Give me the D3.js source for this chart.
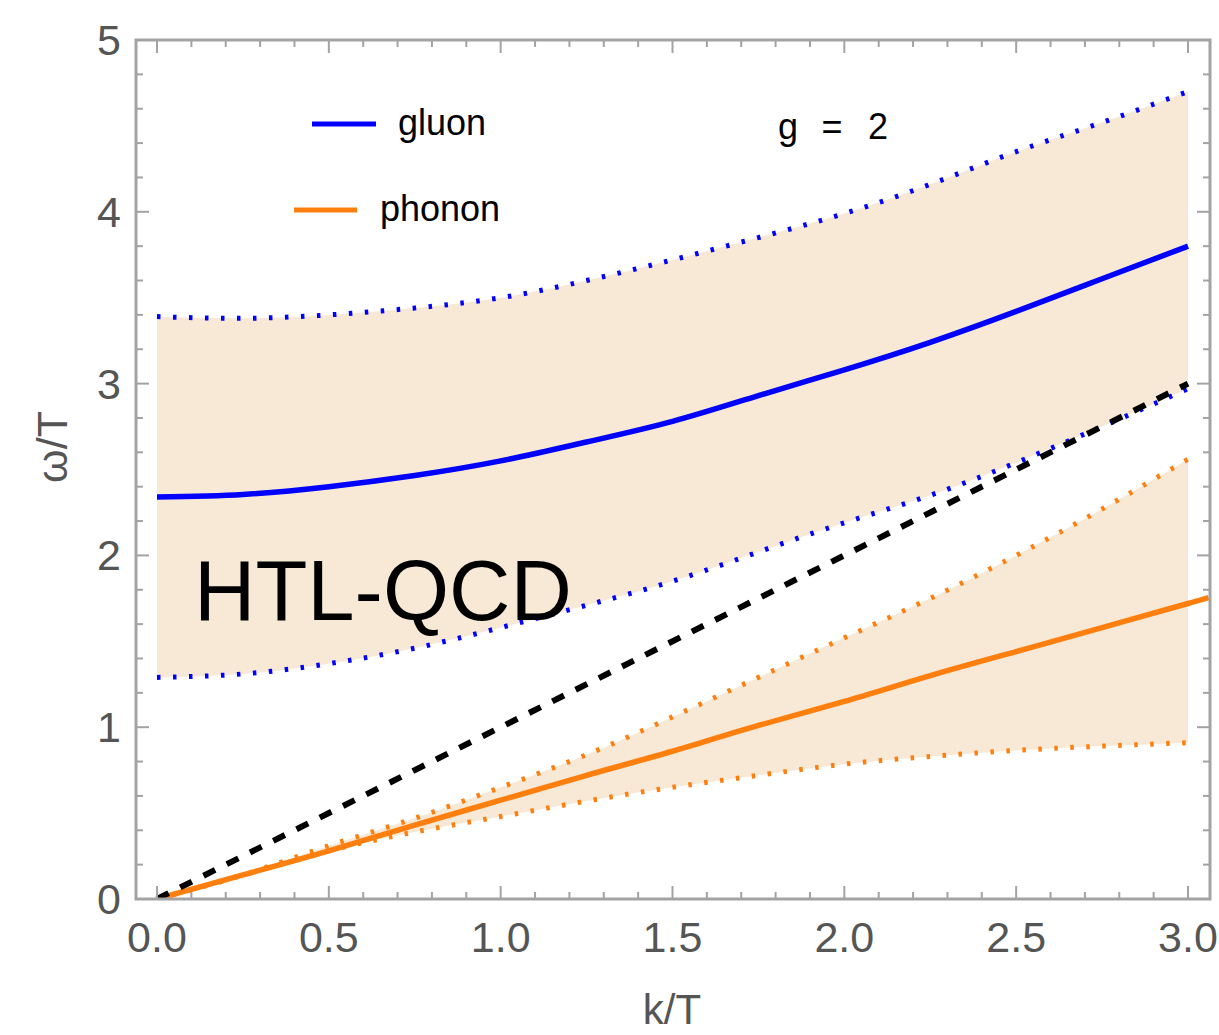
<!DOCTYPE html>
<html>
<head>
<meta charset="utf-8">
<script src="https://cdn.jsdelivr.net/npm/d3@7"></script>
<style>
  html, body { margin: 0; padding: 0; background: #fff; }
  svg { display: block; font-family: "Liberation Sans", Arial, sans-serif; }
</style>
</head>
<body>
<svg id="chart" width="1219" height="1035"></svg>
<script>
// dispersion curves, k/T on the grid below
const kGrid = [0, 0.25, 0.5, 0.75, 1.0, 1.25, 1.5, 1.75, 2.0, 2.25, 2.5, 2.75, 3.0];

// gluon branch with its band edges
const gluonMid   = [2.34, 2.355, 2.40, 2.465, 2.55, 2.66, 2.78, 2.93, 3.08, 3.24, 3.42, 3.61, 3.80];
const gluonUpper = [3.39, 3.38, 3.40, 3.44, 3.50, 3.60, 3.72, 3.85, 3.99, 4.16, 4.35, 4.52, 4.70];
const gluonLower = [1.29, 1.31, 1.37, 1.46, 1.58, 1.71, 1.85, 2.02, 2.19, 2.35, 2.54, 2.75, 2.97];

// phonon branch (central curve runs a little past k = 3)
const kPhonon     = [0, 0.25, 0.5, 0.75, 1.0, 1.25, 1.5, 1.75, 2.0, 2.25, 2.5, 2.75, 3.0, 3.06];
const phononMid   = [0, 0.14, 0.28, 0.43, 0.575, 0.72, 0.86, 1.01, 1.15, 1.30, 1.44, 1.58, 1.72, 1.755];
const phononUpper = [0, 0.14, 0.31, 0.47, 0.65, 0.84, 1.06, 1.29, 1.52, 1.75, 2.00, 2.27, 2.56];
const phononLower = [0, 0.14, 0.28, 0.39, 0.48, 0.57, 0.65, 0.72, 0.785, 0.83, 0.865, 0.89, 0.91];

// light cone omega = k
const lightK = [0, 3];
const lightW = [0, 3];

const xTicks = [0, 0.5, 1.0, 1.5, 2.0, 2.5, 3.0];
const yTicks = [0, 1, 2, 3, 4, 5];
const xMinor = d3.range(0, 3.001, 0.1).filter(v => Math.abs(v * 2 - Math.round(v * 2)) > 1e-6);
const yMinor = d3.range(0, 5.001, 0.2).filter(v => Math.abs(v - Math.round(v)) > 1e-6);

const svg = d3.select('#chart');

// frame bounds (plot range has a bit of padding on the k side)
const frame = { left: 136, right: 1210, top: 40, bottom: 899 };

const x = d3.scaleLinear().domain([0, 3]).range([157, 1188]);
const y = d3.scaleLinear().domain([0, 5]).range([frame.bottom, frame.top]);

const bandColor = '#f7e9d6';
const blue = '#0000ff';
const orange = '#ff7f0e';
const axisGray = '#a3a3a3';
const labelGray = '#555';

svg.append('defs').append('clipPath').attr('id', 'plot-clip')
  .append('rect')
  .attr('x', frame.left).attr('y', frame.top)
  .attr('width', frame.right - frame.left)
  .attr('height', frame.bottom - frame.top);

const plot = svg.append('g').attr('clip-path', 'url(#plot-clip)');

const toPts = (ks, ws) => ks.slice(0, ws.length).map((k, i) => [k, ws[i]]);

const band = d3.area()
  .x(d => x(d.k))
  .y0(d => y(d.lo))
  .y1(d => y(d.hi))
  .curve(d3.curveNatural);

const line = d3.line()
  .x(d => x(d[0]))
  .y(d => y(d[1]))
  .curve(d3.curveNatural);

// shaded uncertainty bands
plot.append('path')
  .datum(kGrid.map((k, i) => ({ k, lo: gluonLower[i], hi: gluonUpper[i] })))
  .attr('d', band)
  .attr('fill', bandColor);

plot.append('path')
  .datum(kGrid.map((k, i) => ({ k, lo: phononLower[i], hi: phononUpper[i] })))
  .attr('d', band)
  .attr('fill', bandColor);

// dotted band edges
const dotted = [
  { pts: toPts(kGrid, gluonUpper), color: blue },
  { pts: toPts(kGrid, gluonLower), color: blue },
  { pts: toPts(kGrid, phononUpper), color: orange },
  { pts: toPts(kGrid, phononLower), color: orange }
];
dotted.forEach(s => {
  plot.append('path')
    .datum(s.pts)
    .attr('d', line)
    .attr('fill', 'none')
    .attr('stroke', s.color)
    .attr('stroke-width', 5)
    .attr('stroke-dasharray', '3.5,12.5');
});

// central curves
plot.append('path')
  .datum(toPts(kGrid, gluonMid))
  .attr('d', line)
  .attr('fill', 'none')
  .attr('stroke', blue)
  .attr('stroke-width', 5.5);

plot.append('path')
  .datum(toPts(kPhonon, phononMid))
  .attr('d', line)
  .attr('fill', 'none')
  .attr('stroke', orange)
  .attr('stroke-width', 5.5);

// light cone
plot.append('path')
  .datum(toPts(lightK, lightW))
  .attr('d', d3.line().x(d => x(d[0])).y(d => y(d[1])))
  .attr('fill', 'none')
  .attr('stroke', '#000')
  .attr('stroke-width', 6)
  .attr('stroke-dasharray', '13,13');

// frame with inward ticks on all four sides
const axes = svg.append('g');

function tickMarks(values, scale, len, side) {
  values.forEach(v => {
    const p = scale(v);
    let x1, y1, x2, y2;
    if (side === 'bottom') { x1 = x2 = p; y1 = frame.bottom; y2 = frame.bottom - len; }
    if (side === 'top')    { x1 = x2 = p; y1 = frame.top;    y2 = frame.top + len; }
    if (side === 'left')   { y1 = y2 = p; x1 = frame.left;   x2 = frame.left + len; }
    if (side === 'right')  { y1 = y2 = p; x1 = frame.right;  x2 = frame.right - len; }
    axes.append('line')
      .attr('x1', x1).attr('y1', y1).attr('x2', x2).attr('y2', y2)
      .attr('stroke', axisGray)
      .attr('stroke-width', 2);
  });
}

['bottom', 'top'].forEach(side => {
  tickMarks(xTicks, x, 13, side);
  tickMarks(xMinor, x, 7, side);
});
['left', 'right'].forEach(side => {
  tickMarks(yTicks, y, 13, side);
  tickMarks(yMinor, y, 7, side);
});

axes.append('rect')
  .attr('x', frame.left).attr('y', frame.top)
  .attr('width', frame.right - frame.left)
  .attr('height', frame.bottom - frame.top)
  .attr('fill', 'none')
  .attr('stroke', axisGray)
  .attr('stroke-width', 3);

// tick labels
axes.selectAll('.xlab')
  .data(xTicks)
  .enter()
  .append('text')
  .attr('x', d => x(d))
  .attr('y', 952)
  .attr('text-anchor', 'middle')
  .attr('font-size', 43)
  .attr('fill', labelGray)
  .text(d3.format('.1f'));

axes.selectAll('.ylab')
  .data(yTicks)
  .enter()
  .append('text')
  .attr('x', 121)
  .attr('y', d => y(d) + 15)
  .attr('text-anchor', 'end')
  .attr('font-size', 43)
  .attr('fill', labelGray)
  .text(d => d);

// axis titles
svg.append('text')
  .attr('x', 672)
  .attr('y', 1024)
  .attr('text-anchor', 'middle')
  .attr('font-size', 42)
  .attr('fill', labelGray)
  .text('k/T');

svg.append('text')
  .attr('transform', 'translate(67,447) rotate(-90)')
  .attr('text-anchor', 'middle')
  .attr('font-size', 43)
  .attr('fill', labelGray)
  .text('ω/T');

// legend
const legend = [
  { label: 'gluon', color: blue, x0: 312, x1: 376, tx: 398, y: 124 },
  { label: 'phonon', color: orange, x0: 294, x1: 357, tx: 380, y: 210 }
];
legend.forEach(l => {
  svg.append('line')
    .attr('x1', l.x0).attr('x2', l.x1)
    .attr('y1', l.y).attr('y2', l.y)
    .attr('stroke', l.color)
    .attr('stroke-width', 5);
  svg.append('text')
    .attr('x', l.tx)
    .attr('y', l.y + 11)
    .attr('font-size', 36)
    .attr('fill', '#000')
    .text(l.label);
});

// coupling note
[['g', 788], ['=', 832], ['2', 878]].forEach(([t, px]) => {
  svg.append('text')
    .attr('x', px)
    .attr('y', 139)
    .attr('text-anchor', 'middle')
    .attr('font-size', 36)
    .attr('fill', '#000')
    .text(t);
});

svg.append('text')
  .attr('x', 194)
  .attr('y', 620)
  .attr('font-size', 85)
  .attr('fill', '#000')
  .text('HTL-QCD');
</script>
</body>
</html>
